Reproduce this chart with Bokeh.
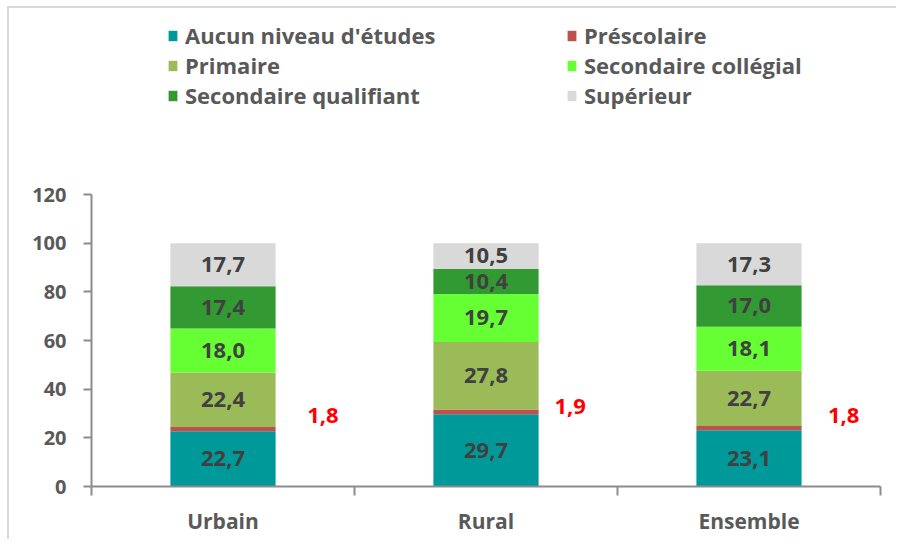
from bokeh.plotting import figure
from bokeh.models import (ColumnDataSource, Range1d, FixedTicker, LinearAxis,
                          Legend, LegendItem)
from bokeh.core.properties import value
from bokeh.embed import file_html
from bokeh.resources import INLINE
import numpy as np

# ---------------- data ----------------
categories = ["Urbain", "Rural", "Ensemble"]
series_names = ["Aucun niveau d'études", "Préscolaire", "Primaire",
                "Secondaire collégial", "Secondaire qualifiant", "Supérieur"]
aucun = [22.7, 29.7, 23.1]
prescolaire = [1.8, 1.9, 1.8]
primaire = [22.4, 27.8, 22.7]
sec_collegial = [18.0, 19.7, 18.1]
sec_qualifiant = [17.4, 10.4, 17.0]
superieur = [17.7, 10.5, 17.3]
y_ticks = [0, 20, 40, 60, 80, 100, 120]

# ---------------- styles ----------------
colors = ["#009999", "#C0504D", "#9BBB59", "#66FF33", "#339933", "#D9D9D9"]
FONT = "Open Sans"
GREY = "#595959"
AXIS = "#8C8C8C"
red_dx = [0.38, 0.32, 0.36]
red_dy = [4.5, 1.3, 4.3]

# frame geometry (pixels inside the figure)
FRAME_TOP, AXIS_TOP_PX, FRAME_BOTTOM = 2, 186, 478
Y_MAX = 120
y_end = Y_MAX * (FRAME_BOTTOM - FRAME_TOP) / (FRAME_BOTTOM - AXIS_TOP_PX)

keys = ["aucun", "presco", "primaire", "college", "qualif", "sup"]
values = [aucun, prescolaire, primaire, sec_collegial, sec_qualifiant, superieur]
xc = np.arange(len(categories)) + 0.5
data = {"x": xc}
for k, v in zip(keys, values):
    data[k] = v
src = ColumnDataSource(data)

p = figure(width=889, height=533, x_range=Range1d(0, 3), y_range=Range1d(0, y_end),
           output_backend="svg", toolbar_location=None,
           x_axis_type=None, y_axis_type=None,
           min_border_left=82, min_border_right=18,
           min_border_top=FRAME_TOP, min_border_bottom=55)
p.outline_line_color = None
p.background_fill_color = "white"
p.border_fill_color = "white"
p.styles = {"margin-left": "7px", "margin-top": "6px",
            "border-left": "2px solid #D9D9D9", "border-top": "2px solid #D9D9D9"}

rends = p.vbar_stack(keys, x="x", width=0.4, color=colors, source=src, line_color=None)

# ---------------- axes ----------------
yaxis = LinearAxis(ticker=FixedTicker(ticks=y_ticks, minor_ticks=[]), bounds=(0, Y_MAX))
yaxis.axis_line_color = AXIS
yaxis.axis_line_width = 2
yaxis.major_tick_line_color = AXIS
yaxis.major_tick_line_width = 2
yaxis.major_tick_out = 8
yaxis.major_tick_in = 0
yaxis.minor_tick_line_color = None
yaxis.major_label_standoff = 17
yaxis.major_label_text_font = FONT
yaxis.major_label_text_font_style = "bold"
yaxis.major_label_text_font_size = "20px"
yaxis.major_label_text_color = GREY
p.add_layout(yaxis, "left")

xaxis = LinearAxis(ticker=FixedTicker(ticks=list(xc), minor_ticks=list(range(len(categories) + 1))),
                   major_label_overrides={float(x): c for x, c in zip(xc, categories)})
xaxis.axis_line_color = AXIS
xaxis.axis_line_width = 2
xaxis.major_tick_line_color = None
xaxis.major_tick_out = 0
xaxis.major_tick_in = 0
xaxis.minor_tick_line_color = AXIS
xaxis.minor_tick_line_width = 2
xaxis.minor_tick_out = 9
xaxis.minor_tick_in = 0
xaxis.major_label_standoff = 11
xaxis.major_label_text_font = FONT
xaxis.major_label_text_font_style = "bold"
xaxis.major_label_text_font_size = "21px"
xaxis.major_label_text_color = GREY
p.add_layout(xaxis, "below")

# ---------------- labels ----------------
lx, ly, lt = [], [], []
rx, ry, rt = [], [], []
bottom = np.zeros(len(categories))
for k, v in zip(keys, values):
    v = np.array(v, dtype=float)
    top = bottom + v
    for i in range(len(categories)):
        txt = f"{v[i]:.1f}".replace(".", ",")
        if k == "presco":
            rx.append(xc[i] + red_dx[i])
            ry.append(top[i] + red_dy[i])
            rt.append(txt)
        else:
            lx.append(xc[i])
            ly.append((bottom[i] + top[i]) / 2)
            lt.append(txt)
    bottom = top

p.text(x=lx, y=ly, text=lt, text_align="center", text_baseline="middle",
       text_font=value(FONT), text_font_style="bold", text_font_size="22px",
       text_color="#404040")
p.text(x=rx, y=ry, text=rt, text_align="center", text_baseline="middle",
       text_font=value(FONT), text_font_style="bold", text_font_size="22px",
       text_color="#FF0000")

# ---------------- legends ----------------
def make_legend(idx, loc):
    lg = Legend(items=[LegendItem(label=series_names[i], renderers=[rends[i]]) for i in idx],
                location=loc, orientation="vertical")
    lg.border_line_color = None
    lg.background_fill_alpha = 0
    lg.padding = 0
    lg.margin = 0
    lg.spacing = 0
    lg.glyph_width = 11
    lg.glyph_height = 13
    lg.label_standoff = 7
    lg.label_text_font = FONT
    lg.label_text_font_style = "bold"
    lg.label_text_font_size = "22px"
    lg.label_text_color = GREY
    lg.label_height = 26
    return lg

p.add_layout(make_legend([0, 2, 4], (76, 376)), "center")
p.add_layout(make_legend([1, 3, 5], (475, 376)), "center")

open("out.html", "w").write(file_html(p, INLINE))
